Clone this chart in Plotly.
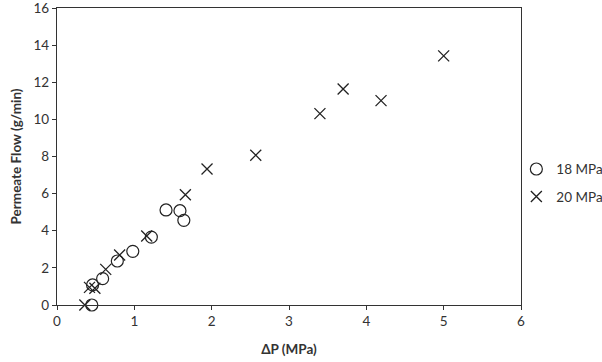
import plotly.graph_objects as go

dp_18 = [0.45, 0.46, 0.59, 0.78, 0.98, 1.22, 1.41, 1.59, 1.64]
flow_18 = [0.0, 1.08, 1.42, 2.37, 2.89, 3.66, 5.12, 5.08, 4.56]

dp_20 = [0.36, 0.42, 0.49, 0.63, 0.81, 1.16, 1.66, 1.94, 2.57, 3.40, 3.70, 4.19, 5.00]
flow_20 = [0.0, 0.95, 0.90, 1.92, 2.69, 3.72, 5.94, 7.33, 8.07, 10.31, 11.64, 11.01, 13.42]

x_ticks = [0, 1, 2, 3, 4, 5, 6]
y_ticks = [0, 2, 4, 6, 8, 10, 12, 14, 16]

fig = go.Figure()
fig.add_trace(go.Scatter(
    x=dp_18, y=flow_18, mode="markers", name="18 MPa", cliponaxis=False, legendgroup="a",
    marker=dict(symbol="circle-open", size=12, color="#222", line=dict(width=1.2, color="#222")),
))
fig.add_trace(go.Scatter(
    x=dp_20, y=flow_20, mode="markers", name="20 MPa", cliponaxis=False, legendgroup="b",
    marker=dict(symbol="x-thin-open", size=11, color="#222", line=dict(width=1.3, color="#222")),
))

axis_common = dict(
    showgrid=False, zeroline=False, showline=True, linecolor="#333", linewidth=1.3,
    mirror=True, ticks="outside", ticklen=4, tickcolor="#333", tickwidth=1,
    tickfont=dict(family="Lato, Open Sans, sans-serif", size=13.5, color="#333"),
    automargin=False, ticklabeloverflow="allow",
)

fig.update_layout(
    width=602, height=362,
    margin=dict(l=57, r=81, t=8, b=57, autoexpand=False),
    paper_bgcolor="white", plot_bgcolor="white",
    font=dict(family="Lato, Open Sans, sans-serif", size=13, color="#333"),
    xaxis=dict(range=[0, 6], tickvals=x_ticks,
               title=dict(text="<b>ΔP (MPa)</b>", font=dict(size=13.5), standoff=16),
               **axis_common),
    yaxis=dict(range=[0, 16], tickvals=y_ticks,
               title=dict(text="<b>Permeate Flow (g/min)</b>", font=dict(size=13.5), standoff=8),
               **axis_common),
    legend=dict(x=0.99, y=0.41, xanchor="left", yanchor="middle",
                font=dict(size=13.5, color="#333"), itemwidth=30,
                tracegroupgap=7, bgcolor="rgba(0,0,0,0)"),
    showlegend=True,
)

fig.write_html("out.html")
